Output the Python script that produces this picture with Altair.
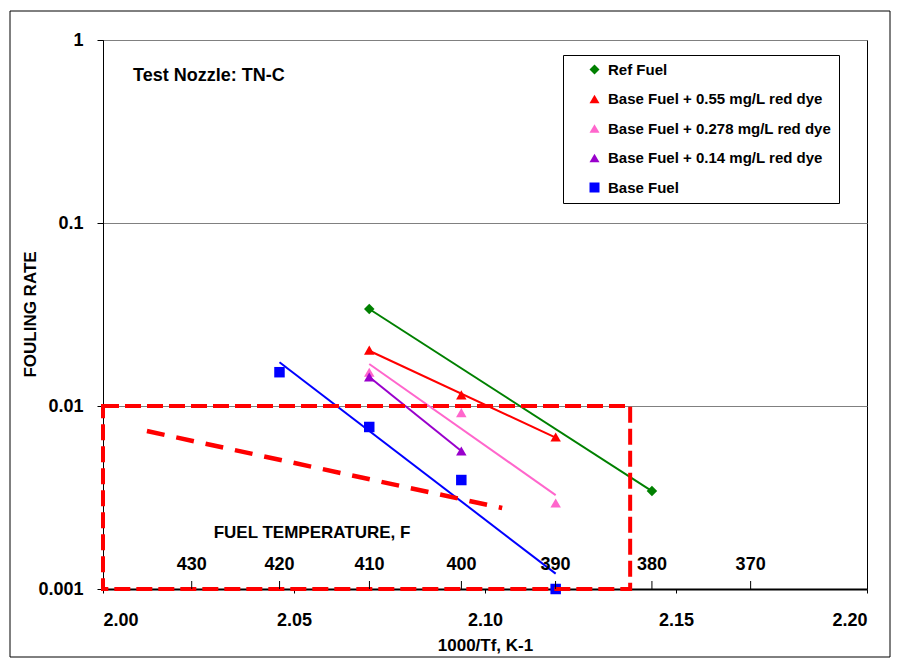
import altair as alt
import pandas as pd

# ---------------- data ----------------
series_names = [
    "Ref Fuel",
    "Base Fuel + 0.55 mg/L red dye",
    "Base Fuel + 0.278 mg/L red dye",
    "Base Fuel + 0.14 mg/L red dye",
    "Base Fuel",
]
series_colors = ["#008000", "#FF0000", "#FF66CC", "#9900CC", "#0000FF"]
series_shapes = ["diamond", "triangle-up", "triangle-up", "triangle-up", "square"]

ref_x = [2.0697, 2.1437]
ref_y = [0.0339, 0.00343]
dye055_x = [2.0697, 2.0938, 2.1185]
dye055_y = [0.0202, 0.0115, 0.00677]
dye0278_x = [2.0697, 2.0938, 2.1185]
dye0278_y = [0.0153, 0.0092, 0.00295]
dye014_x = [2.0697, 2.0938]
dye014_y = [0.0144, 0.00568]
base_x = [2.0462, 2.0697, 2.0938, 2.1185]
base_y = [0.0153, 0.00768, 0.00394, 0.001]

proj_x = [2.0115, 2.1045]
proj_y = [0.0073, 0.00277]

box_x = [2.0, 2.138]
box_y = [0.001, 0.01]

temps_f = [430, 420, 410, 400, 390, 380, 370]
x_ticks = [2.00, 2.05, 2.10, 2.15, 2.20]
y_ticks = [0.001, 0.01, 0.1, 1]

FONT = "Liberation Sans"

# ---------------- tables ----------------
rows = []
for name, col, xs_, ys_ in zip(
    series_names,
    series_colors,
    [ref_x, dye055_x, dye0278_x, dye014_x, base_x],
    [ref_y, dye055_y, dye0278_y, dye014_y, base_y],
):
    for a, b in zip(xs_, ys_):
        rows.append({"series": name, "col": col, "x": a, "y": b})
df = pd.DataFrame(rows)
proj_df = pd.DataFrame({"x": proj_x, "y": proj_y})
box_df = pd.DataFrame({"x": [box_x[0]], "x2": [box_x[1]], "y": [box_y[0]], "y2": [box_y[1]]})
temp_df = pd.DataFrame({"F": temps_f})

# ---------------- scales / axes ----------------
xs = alt.Scale(domain=[2.0, 2.2], nice=False, zero=False)
ys = alt.Scale(type="log", domain=[0.001, 1], nice=False)
color_scale = alt.Scale(domain=series_names, range=series_colors)
shape_scale = alt.Scale(domain=series_names, range=series_shapes)

x_axis = alt.Axis(
    values=x_ticks, format=".2f", title="1000/Tf, K-1", grid=False,
    tickSize=4, labelPadding=18, labelFontSize=18, titleFontSize=17,
    titlePadding=8, domainWidth=2,
)
y_axis = alt.Axis(
    values=y_ticks, format="~g", title="FOULING RATE", grid=True,
    gridColor="#808080", gridWidth=1, tickSize=6, labelPadding=14,
    labelFontSize=18, titleFontSize=17, titleX=-73, titleY=274,
    titleBaseline="middle", titleAlign="center", titleAngle=270,
)

legend = alt.Legend(
    orient="none", legendX=460, legendY=15,
    strokeColor="black", fillColor="white", padding=7,
    symbolOffset=17, labelOffset=6, labelFont=FONT, labelFontSize=15,
    labelFontWeight="bold", labelColor="black", rowPadding=13.5,
    symbolSize=100, labelLimit=400, zindex=5,
)


def X(field):
    return alt.X(field, type="quantitative", scale=xs, axis=x_axis)


def Y(field):
    return alt.Y(field, type="quantitative", scale=ys, axis=y_axis)


points = (
    alt.Chart(df)
    .mark_point(filled=True, opacity=1, size=110)
    .encode(
        x=X("x"),
        y=Y("y"),
        color=alt.Color("series:N", scale=color_scale, legend=legend, title=""),
        shape=alt.Shape("series:N", scale=shape_scale, legend=legend, title=""),
    )
)

lines = (
    alt.Chart(df)
    .transform_calculate(ly="log(datum.y)")
    .transform_regression("x", "ly", groupby=["series", "col"])
    .transform_calculate(yf="exp(datum.ly)")
    .mark_line(strokeWidth=2)
    .encode(
        x=X("x"),
        y=Y("yf"),
        detail="series:N",
        stroke=alt.Stroke("col:N", scale=None),
    )
)

proj = (
    alt.Chart(proj_df)
    .mark_line(color="#FF0000", strokeWidth=4.5, strokeDash=[18, 12])
    .encode(x=X("x"), y=Y("y"))
)

box = (
    alt.Chart(box_df)
    .mark_rect(fillOpacity=0, stroke="#FF0000", strokeWidth=4, strokeDash=[16, 6])
    .encode(x=X("x"), x2="x2", y=Y("y"), y2="y2")
)

note = (
    alt.Chart(pd.DataFrame({"t": ["Test Nozzle: TN-C"]}))
    .mark_text(align="left", baseline="middle", font=FONT, fontSize=18,
               fontWeight="bold", color="black")
    .encode(text="t:N", x=alt.value(30), y=alt.value(36))
)

frame = (
    alt.Chart(pd.DataFrame({"a": [0]}))
    .mark_rect(fillOpacity=0, stroke="black", strokeWidth=1)
    .encode(x=alt.value(-93), x2=alt.value(787), y=alt.value(-29), y2=alt.value(617))
)

# secondary temperature scale (ticks + labels placed through the x scale)
temp_base = alt.Chart(temp_df).transform_calculate(
    xk="1000/((datum.F - 32)*5/9 + 273.15)"
)
temp_ticks = temp_base.mark_rule(color="black", strokeWidth=1).encode(
    x=X("xk"), y=alt.value(541), y2=alt.value(549)
)
temp_labels = temp_base.mark_text(
    font=FONT, fontSize=18, fontWeight="bold", color="black", baseline="middle"
).encode(x=X("xk"), y=alt.value(525), text=alt.Text("F:Q", format="d"))
temp_title = (
    alt.Chart(pd.DataFrame({"t": ["FUEL TEMPERATURE, F"]}))
    .mark_text(font=FONT, fontSize=17, fontWeight="bold", color="black",
               baseline="middle", align="center")
    .encode(text="t:N", x=alt.value(209), y=alt.value(493))
)

chart = (
    alt.layer(frame, lines, points, proj, box, note, temp_ticks, temp_labels, temp_title)
    .properties(
        width=764, height=549,
        autosize=alt.AutoSizeParams(type="none"),
        padding={"left": 103, "top": 40, "right": 32, "bottom": 73},
        background="white",
    )
    .configure_view(stroke="black", strokeWidth=1)
    .configure_axis(
        labelFont=FONT, titleFont=FONT, labelFontWeight="bold",
        titleFontWeight="bold", labelColor="black", titleColor="black",
        domainColor="black", tickColor="black",
    )
)

chart.save("out.html", embed_options={"renderer": "svg", "actions": False})
